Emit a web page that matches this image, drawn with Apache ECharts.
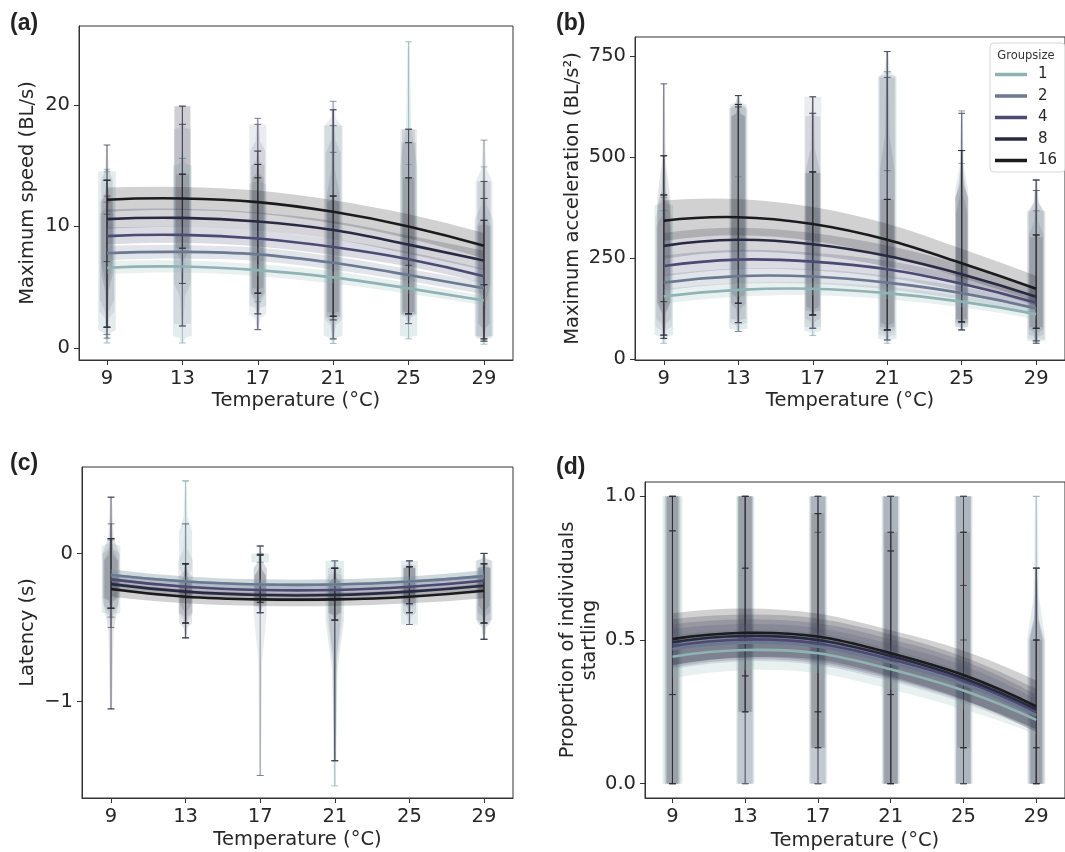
<!DOCTYPE html>
<html><head><meta charset="utf-8">
<script src="https://cdn.jsdelivr.net/npm/echarts@6/dist/echarts.min.js"></script>
<style>html,body{margin:0;padding:0;background:#fff}#c{width:1065px;height:852px}</style>
</head><body><div id="c"></div><script>
// ---------------- data ----------------
const temps = [9, 13, 17, 21, 25, 29];
const groupSizes = ['1', '2', '4', '8', '16'];
const groupColors = ['#8fb2b4', '#6b7891', '#4b4a72', '#282a42', '#1b1a1d'];
const violinColors = ['#8fb2b4', '#767e92', '#5f5d7a', '#3d3e4e', '#2a2a2e'];

// fitted curves: one row per group size, values at temps
const speedFit = [
  [6.6, 6.7, 6.4, 5.8, 4.9, 3.9],
  [7.8, 7.9, 7.7, 7.0, 6.0, 4.9],
  [9.2, 9.3, 9.0, 8.3, 7.3, 5.9],
  [10.6, 10.7, 10.4, 9.7, 8.5, 7.2],
  [12.2, 12.3, 12.0, 11.2, 10.0, 8.4]];
const speedCI = [
  [0.55, 0.5, 0.5, 0.5, 0.45, 0.4],
  [0.6, 0.55, 0.55, 0.55, 0.5, 0.5],
  [0.7, 0.65, 0.65, 0.65, 0.6, 0.6],
  [0.8, 0.75, 0.75, 0.75, 0.75, 0.8],
  [1.0, 0.95, 0.95, 0.95, 1.0, 1.05]];
const accelFit = [
  [155, 171, 174, 163, 142, 111],
  [189, 205, 204, 189, 163, 125],
  [230, 246, 241, 222, 186, 139],
  [280, 295, 284, 255, 210, 154],
  [342, 351, 334, 295, 237, 174]];
const accelCI = [
  [18, 17, 16, 15, 14, 13],
  [20, 19, 18, 17, 16, 15],
  [26, 24, 22, 21, 19, 17],
  [32, 30, 28, 26, 24, 22],
  [50, 45, 42, 40, 36, 32]];
const latencyFit = [
  [-0.146, -0.190, -0.210, -0.210, -0.190, -0.153],
  [-0.146, -0.190, -0.210, -0.210, -0.190, -0.153],
  [-0.175, -0.225, -0.247, -0.247, -0.225, -0.184],
  [-0.207, -0.258, -0.281, -0.281, -0.258, -0.218],
  [-0.240, -0.292, -0.310, -0.310, -0.292, -0.252]];
const latencyCI = [
  [0.04, 0.035, 0.035, 0.035, 0.035, 0.04],
  [0.04, 0.035, 0.035, 0.035, 0.035, 0.04],
  [0.04, 0.035, 0.035, 0.035, 0.035, 0.04],
  [0.045, 0.04, 0.04, 0.04, 0.04, 0.045],
  [0.05, 0.045, 0.045, 0.045, 0.045, 0.05]];
const startleFit = [
  [0.442, 0.465, 0.454, 0.398, 0.324, 0.222],
  [0.468, 0.491, 0.477, 0.421, 0.346, 0.238],
  [0.479, 0.502, 0.488, 0.433, 0.358, 0.249],
  [0.492, 0.514, 0.500, 0.444, 0.367, 0.259],
  [0.503, 0.525, 0.512, 0.454, 0.378, 0.269]];
const startleCI = [
  [0.075, 0.07, 0.07, 0.07, 0.065, 0.05],
  [0.07, 0.065, 0.065, 0.065, 0.065, 0.055],
  [0.075, 0.07, 0.07, 0.07, 0.07, 0.06],
  [0.08, 0.075, 0.075, 0.075, 0.075, 0.07],
  [0.09, 0.085, 0.08, 0.08, 0.085, 0.09]];

// violins: per group, per temperature: [min, bodyLow, bodyHigh, max, halfWidth, markLow, markHigh]
const speedViolins = [
  [[0.4,1.5,14.5,14.7,0.47,1.1,14.5],[0.4,1.0,15.0,15.6,0.5,1.8,15.6],[2.8,3.5,13.5,14.0,0.45,3.8,14.0],[0.36,1.0,18.3,18.3,0.5,0.74,18.3],[0.74,1.0,15.0,25.2,0.46,2.0,15.1],[0.3,1.0,10.5,14.9,0.5,0.55,10.5]],
  [[1.1,3,12,13.8,0.4,1.7,12],[1.8,2,18,18.4,0.45,1.8,18.4],[1.5,2.8,18.4,18.4,0.45,2.8,18.4],[0.74,2.3,18.3,20.3,0.45,2.3,18.3],[2.0,2.7,18,18,0.45,2.0,18],[0.55,0.8,13.7,17.1,0.45,0.74,13.7]],
  [[0.8,4,11,12.5,0.38,1.7,11],[1.8,5.3,19.9,19.9,0.45,5.3,18.4],[1.5,4.5,16.2,18.9,0.4,4.5,16.2],[0.74,2.6,16,19.6,0.4,2.6,16.1],[2.0,2.8,16.9,16.9,0.4,2.8,16.9],[0.74,1,10,12.3,0.4,5.2,12.3]],
  [[1.7,7,13.8,16.7,0.3,1.7,13.8],[5.3,8.2,19.9,19.9,0.4,8.2,14.3],[2.8,4.5,15,16.2,0.35,4.5,15.1],[2.3,2.6,12.5,19.6,0.35,2.6,12.5],[2.8,2.8,18,18,0.35,2.8,16.9],[0.55,5.2,13.7,13.7,0.35,5.2,12.3]],
  [[1.7,6,12,13.8,0.3,7.1,13.8],[8.2,8.2,14.3,14.3,0.35,8.2,14.3],[4.5,5,14,15.1,0.3,4.5,14.0],[2.6,3,12,12.5,0.3,2.6,12.5],[2.8,3,14,14,0.3,6.8,14],[0.74,2,10,10.5,0.3,5.2,10.5]]];
const accelViolins = [
  [[39,60,380,400,0.5,51,367],[68,75,620,630,0.5,90,451],[58,70,460,463,0.45,76,463],[39,50,700,711,0.5,47,711],[72,80,400,484,0.35,92,484],[39,45,367,367,0.5,45,367]],
  [[51,80,350,503,0.45,59,406],[68,90,630,652,0.45,90,630],[76,80,649,649,0.45,109,608],[47,60,697,761,0.45,72,697],[72,80,420,614,0.35,72,516],[45,50,360,443,0.45,45,417]],
  [[59,100,330,406,0.4,59,406],[90,100,600,624,0.4,138,624],[76,100,600,608,0.4,76,608],[47,72,697,697,0.4,72,466],[92,95,400,608,0.3,92,608],[45,60,307,417,0.4,76,307]],
  [[59,140,400,681,0.35,142,503],[90,138,624,652,0.4,138,652],[109,120,463,649,0.4,109,463],[72,80,466,761,0.4,72,395],[72,90,400,516,0.35,92,516],[39,76,367,443,0.4,76,443]],
  [[51,140,380,503,0.35,142,406],[138,160,600,630,0.35,138,630],[109,130,460,463,0.35,109,463],[72,90,395,395,0.35,72,395],[92,100,360,516,0.3,92,516],[76,80,300,307,0.35,76,307]]];
const latencyViolins = [
  [[-0.43,-0.4,0.05,0.10,0.5,-0.43,0.09],[-0.3,-0.1,0.15,0.49,0.35,-0.3,0.49],[-0.06,-0.06,0.0,0.0,0.47,-0.06,0.0],[-1.57,-0.45,-0.05,-0.05,0.5,-0.45,-0.05],[-0.48,-0.48,-0.05,-0.05,0.45,-0.48,-0.05],[-0.47,-0.45,-0.05,0.0,0.45,-0.47,0.0]],
  [[-0.37,-0.3,0.0,0.10,0.45,-0.37,0.10],[-0.57,-0.4,-0.05,0.20,0.4,-0.47,0.20],[-1.50,-0.4,-0.1,0.05,0.35,-1.50,0.05],[-1.40,-0.45,-0.15,-0.10,0.4,-1.40,-0.10],[-0.40,-0.35,-0.08,-0.05,0.35,-0.40,-0.09],[-0.58,-0.45,-0.05,0.0,0.4,-0.58,0.0]],
  [[-0.5,-0.35,-0.05,0.2,0.4,-0.37,0.10],[-0.47,-0.4,-0.15,-0.07,0.35,-0.47,-0.07],[-0.40,-0.35,-0.1,0.05,0.35,-0.40,0.05],[-0.45,-0.4,-0.1,-0.05,0.35,-0.45,-0.10],[-0.48,-0.4,-0.1,-0.05,0.35,-0.40,-0.05],[-0.47,-0.4,-0.1,-0.07,0.35,-0.47,-0.07]],
  [[-1.05,-0.3,0.0,0.38,0.45,-1.05,0.38],[-0.57,-0.47,-0.2,-0.07,0.35,-0.57,-0.07],[-0.40,-0.33,-0.15,-0.01,0.3,-0.40,-0.01],[-1.40,-0.4,-0.2,-0.10,0.35,-1.40,-0.10],[-0.40,-0.34,-0.1,-0.09,0.3,-0.40,-0.09],[-0.58,-0.47,-0.1,0.0,0.35,-0.58,0.0]],
  [[-0.37,-0.3,-0.05,0.10,0.35,-0.37,0.10],[-0.47,-0.35,-0.2,-0.07,0.3,-0.47,-0.07],[-0.33,-0.3,-0.15,-0.01,0.3,-0.33,-0.01],[-0.45,-0.4,-0.2,-0.10,0.3,-0.45,-0.10],[-0.34,-0.3,-0.1,-0.09,0.3,-0.34,-0.09],[-0.47,-0.35,-0.1,-0.07,0.3,-0.47,-0.07]]];
const startleViolins = [
  [[0,0,1,1,0.55,0,1],[0,0,1,1,0.5,0,1],[0,0,1,1,0.5,0,1],[0,0,1,1,0.5,0,1],[0,0,1,1,0.5,0,1],[0,0,0.5,1,0.5,0,1]],
  [[0,0,1,1,0.45,0,1],[0,0,1,1,0.45,0,1],[0,0,1,1,0.45,0,1],[0,0,1,1,0.45,0,0.875],[0,0,1,1,0.45,0,1],[0,0,0.5,0.75,0.45,0,0.75]],
  [[0,0,1,1,0.4,0,1],[0,0,1,1,0.4,0.25,1],[0,0,1,1,0.4,0,0.94],[0,0,1,1,0.4,0,1],[0,0,1,1,0.4,0.125,0.875],[0,0,0.5,0.75,0.4,0,0.5]],
  [[0,0,1,1,0.35,0.31,0.88],[0.25,0.25,1,1,0.4,0.375,0.75],[0.125,0.125,1,1,0.4,0.25,0.875],[0,0,1,1,0.4,0.31,0.81],[0,0,1,1,0.4,0.5,0.875],[0,0,0.5,0.75,0.35,0.125,0.75]],
  [[0,0,1,1,0.3,0.31,0.88],[0.25,0.25,1,1,0.35,0.375,0.75],[0.125,0.125,0.94,0.94,0.35,0.25,0.94],[0,0,0.875,0.875,0.35,0.31,0.81],[0.125,0.125,0.875,0.875,0.35,0.125,0.69],[0,0,0.5,0.5,0.3,0.125,0.5]]];

const xTickLabels = ['9', '13', '17', '21', '25', '29'];
const speedTicks = [0, 10, 20];
const accelTicks = [0, 250, 500, 750];
const latencyTicks = [-1, 0];
const startleTicks = [0, 0.5, 1];

// ---------------- helpers ----------------
function rgba(hex, a) {
  const n = parseInt(hex.slice(1), 16);
  return 'rgba(' + (n >> 16) + ',' + ((n >> 8) & 255) + ',' + (n & 255) + ',' + a + ')';
}
// cubic Hermite path through pixel points (uniform spacing, parabolic end tangents)
function splineCmds(P) {
  const n = P.length, T = [];
  for (let i = 1; i < n - 1; i++) T[i] = [(P[i + 1][0] - P[i - 1][0]) / 2, (P[i + 1][1] - P[i - 1][1]) / 2];
  T[0] = [2 * (P[1][0] - P[0][0]) - T[1][0], 2 * (P[1][1] - P[0][1]) - T[1][1]];
  T[n - 1] = [2 * (P[n - 1][0] - P[n - 2][0]) - T[n - 2][0], 2 * (P[n - 1][1] - P[n - 2][1]) - T[n - 2][1]];
  let d = '';
  for (let i = 0; i < n - 1; i++) {
    d += 'C' + (P[i][0] + T[i][0] / 3) + ' ' + (P[i][1] + T[i][1] / 3) + ' ' +
      (P[i + 1][0] - T[i + 1][0] / 3) + ' ' + (P[i + 1][1] - T[i + 1][1] / 3) + ' ' +
      P[i + 1][0] + ' ' + P[i + 1][1];
  }
  return d;
}

function violinRender(color, alpha) {
  const fill = rgba(color, alpha);
  return function (params, api) {
    const t = api.value(0), mn = api.value(1), bl = api.value(2), bh = api.value(3),
      mx = api.value(4), hw = api.value(5), q1 = api.value(6), q3 = api.value(7);
    const prof = [[mn, 0.12], [mn + 0.7 * (bl - mn), 0.3], [bl, 1], [bh, 1], [bh + 0.3 * (mx - bh), 0.3], [mx, 0.12]];
    const pts = [];
    for (let i = 0; i < prof.length; i++) pts.push(api.coord([t + prof[i][1] * hw, prof[i][0]]));
    for (let i = prof.length - 1; i >= 0; i--) pts.push(api.coord([t - prof[i][1] * hw, prof[i][0]]));
    const children = [{ type: 'polygon', shape: { points: pts }, style: { fill: fill, stroke: null } }];
    const seg = (a, b) => ({ type: 'line', shape: { x1: a[0], y1: a[1], x2: b[0], y2: b[1] }, style: { stroke: color, lineWidth: 1, opacity: 0.8 } });
    children.push(seg(api.coord([t, mn]), api.coord([t, mx])));
    [mn, mx, q1, q3].forEach(v => children.push(seg(api.coord([t - 0.18, v]), api.coord([t + 0.18, v]))));
    return { type: 'group', children: children };
  };
}
function bandRender(color) {
  const fill = rgba(color, 0.2);
  return function (params, api) {
    if (params.dataIndexInside !== 0) return null;
    const n = params.dataInsideLength;
    const up = [], lo = [];
    for (let i = 0; i < n; i++) {
      const x = api.value(0, i);
      up.push(api.coord([x, api.value(2, i)]));
      lo.push(api.coord([x, api.value(1, i)]));
    }
    lo.reverse();
    const d = 'M' + up[0][0] + ' ' + up[0][1] + splineCmds(up) + 'L' + lo[0][0] + ' ' + lo[0][1] + splineCmds(lo) + 'Z';
    return { type: 'path', shape: { pathData: d }, style: { fill: fill, stroke: null } };
  };
}
function lineRender(color) {
  return function (params, api) {
    if (params.dataIndexInside !== 0) return null;
    const n = params.dataInsideLength, P = [];
    for (let i = 0; i < n; i++) P.push(api.coord([api.value(0, i), api.value(1, i)]));
    const d = 'M' + P[0][0] + ' ' + P[0][1] + splineCmds(P);
    return { type: 'path', shape: { pathData: d }, style: { fill: null, stroke: color, lineWidth: 2.6 } };
  };
}

// ---------------- panels ----------------
const FONT = "'DejaVu Sans', sans-serif";
const TXT = '#262626';
const FS = 19.5;
const panels = [
  { label: '(a)', lx: 10, ly: 12, grid: { left: 79, top: 26, width: 434, height: 334 }, x: [7.515, 30.54], y: [-1, 26.5],
    ticks: speedTicks, fmt: v => String(v), yName: 'Maximum speed (BL/s)', yGap: 40, xGap: 31,
    fit: speedFit, ci: speedCI, vio: speedViolins },
  { label: '(b)', lx: 556, ly: 12, grid: { left: 635, top: 37, width: 433, height: 323 }, x: [7.453, 30.547], y: [-2.5, 797],
    ticks: accelTicks, fmt: v => String(v), yName: 'Maximum acceleration (BL/s\u00b2)', yGap: 51, xGap: 31,
    fit: accelFit, ci: accelCI, vio: accelViolins },
  { label: '(c)', lx: 10, ly: 452, grid: { left: 82, top: 467, width: 431, height: 331 }, x: [7.445, 30.555], y: [-1.652, 0.584],
    ticks: latencyTicks, fmt: v => String(v).replace('-', '\u2212'), yName: 'Latency (s)', yGap: 43, xGap: 32,
    fit: latencyFit, ci: latencyCI, vio: latencyViolins },
  { label: '(d)', lx: 556, ly: 456, grid: { left: 645, top: 482, width: 423, height: 316 }, x: [7.49, 30.58], y: [-0.05, 1.05],
    ticks: startleTicks, fmt: v => v.toFixed(1), yName: 'Proportion of individuals\nstartling', yGap: 43, xGap: 33,
    fit: startleFit, ci: startleCI, vio: startleViolins }
];
const violinAlpha = [0.24, 0.15, 0.15, 0.14, 0.14];

const grids = [], xAxes = [], yAxes = [], series = [], titles = [];
panels.forEach((p, pi) => {
  grids.push(Object.assign({ show: true, borderColor: '#333', borderWidth: 1, backgroundColor: 'transparent' }, p.grid));
  titles.push({ text: p.label, left: p.lx, top: p.ly, padding: 0,
    textStyle: { fontSize: 23, fontWeight: 'bold', fontFamily: "'Liberation Sans', sans-serif", color: '#222' } });
  xAxes.push({
    type: 'value', gridIndex: pi, min: p.x[0], max: p.x[1],
    name: 'Temperature (\u00b0C)', nameLocation: 'middle', nameGap: p.xGap,
    nameTextStyle: { fontSize: FS, color: TXT, fontFamily: FONT },
    axisLine: { show: true, onZero: false, lineStyle: { color: '#333', width: 1 } },
    axisTick: { show: true, customValues: temps, length: 5, lineStyle: { color: '#333' } },
    axisLabel: { customValues: temps, margin: 9, fontSize: FS, color: TXT, fontFamily: FONT,
      formatter: v => xTickLabels[temps.indexOf(v)] || String(v) },
    splitLine: { show: false }
  });
  yAxes.push({
    type: 'value', gridIndex: pi, min: p.y[0], max: p.y[1],
    name: p.yName, nameLocation: 'middle', nameGap: p.yGap,
    nameTextStyle: { fontSize: FS, color: TXT, fontFamily: FONT, lineHeight: 22 },
    axisLine: { show: true, onZero: false, lineStyle: { color: '#333', width: 1 } },
    axisTick: { show: true, customValues: p.ticks, length: 5, lineStyle: { color: '#333' } },
    axisLabel: { customValues: p.ticks, margin: 9, fontSize: FS, color: TXT, fontFamily: FONT, formatter: p.fmt },
    splitLine: { show: false }
  });
  for (let g = 0; g < 5; g++) {
    series.push({
      type: 'custom', xAxisIndex: pi, yAxisIndex: pi, silent: true, clip: true, z: 1,
      renderItem: violinRender(violinColors[g], violinAlpha[g]),
      encode: { x: 0, y: [1, 2, 3, 4] },
      data: temps.map((t, k) => [t].concat(p.vio[g][k]))
    });
  }
  for (let g = 0; g < 5; g++) {
    series.push({
      type: 'custom', xAxisIndex: pi, yAxisIndex: pi, silent: true, clip: true, z: 2,
      renderItem: bandRender(groupColors[g]),
      encode: { x: 0, y: [1, 2] },
      data: temps.map((t, k) => [t, p.fit[g][k] - p.ci[g][k], p.fit[g][k] + p.ci[g][k]])
    });
  }
  for (let g = 0; g < 5; g++) {
    series.push({
      name: groupSizes[g], type: 'custom', xAxisIndex: pi, yAxisIndex: pi, silent: true, clip: true, z: 3,
      renderItem: lineRender(groupColors[g]),
      itemStyle: { color: groupColors[g] },
      encode: { x: 0, y: 1 },
      data: temps.map((t, k) => [t, p.fit[g][k]])
    });
  }
});

const chart = echarts.init(document.getElementById('c'), null, { renderer: 'canvas' });
chart.setOption({
  animation: false,
  backgroundColor: '#fff',
  textStyle: { fontFamily: FONT },
  title: titles,
  grid: grids, xAxis: xAxes, yAxis: yAxes, series: series,
  legend: {
    data: groupSizes, left: 990, top: 43, orient: 'vertical', selectedMode: false,
    icon: 'rect', itemWidth: 32, itemHeight: 3.5, itemGap: 6.5,
    padding: [24, 8, 4, 5], backgroundColor: 'rgba(255,255,255,0.85)',
    borderColor: '#d6d6d6', borderWidth: 1, borderRadius: 4,
    textStyle: { fontSize: 15, color: TXT, fontFamily: FONT, padding: [0, 0, 0, 6] }, z: 10
  },
  graphic: [{ type: 'text', x: 1026, y: 56, z: 100,
    style: { text: 'Groupsize', fontSize: 11.5, fontFamily: FONT, fill: '#333', textAlign: 'center', textVerticalAlign: 'middle' } }]
});
</script></body></html>
